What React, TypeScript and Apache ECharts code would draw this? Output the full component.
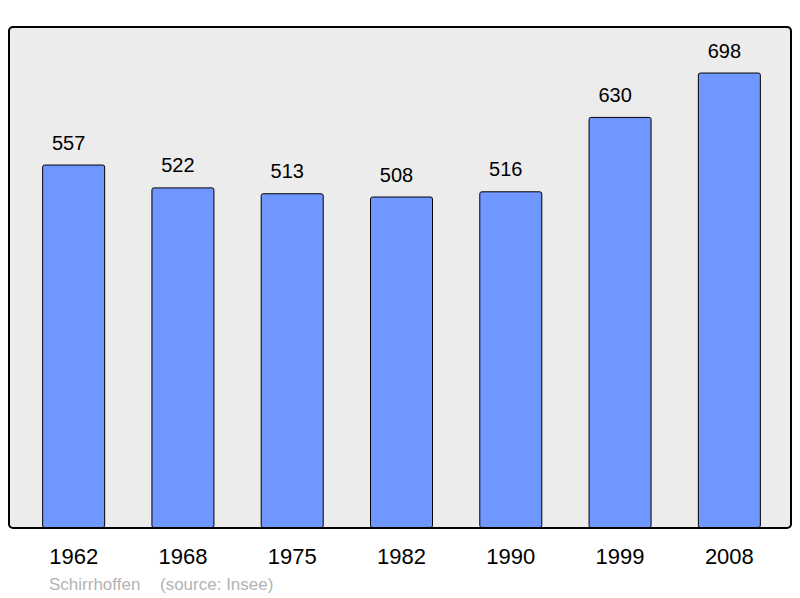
import React, { useEffect, useRef } from "react";
import * as echarts from "echarts";

const years = ["1962", "1968", "1975", "1982", "1990", "1999", "2008"];
const population = [557, 522, 513, 508, 516, 630, 698];
const footerName = "Schirrhoffen";
const footerSource = "(source: Insee)";

export default function App() {
  const ref = useRef<HTMLDivElement>(null);
  useEffect(() => {
    if (!ref.current) return;
    const chart = echarts.init(ref.current, null, { renderer: "svg" });
    const maxV = Math.max(...population) * 1.1;
    const font = "Liberation Sans, Arial, sans-serif";
    chart.setOption({
      animation: false,
      backgroundColor: "#ffffff",
      grid: { left: 19, right: 16, top: 27, bottom: 70 },
      xAxis: {
        type: "category",
        data: years,
        axisLine: { show: false },
        axisTick: { show: false },
        axisLabel: {
          color: "#000",
          fontSize: 22,
          fontFamily: font,
          margin: 17,
        },
      },
      yAxis: {
        type: "value",
        min: 0,
        max: maxV,
        show: false,
        splitLine: { show: false },
      },
      graphic: [
        {
          type: "rect",
          z: -10,
          shape: { x: 9, y: 27, width: 782, height: 501, r: 4 },
          style: { fill: "#ececec", stroke: "none" },
        },
        {
          type: "rect",
          z: 100,
          shape: { x: 9, y: 27, width: 782, height: 501, r: 4 },
          style: { fill: "none", stroke: "#000", lineWidth: 2 },
        },
        {
          type: "text",
          x: 49,
          y: 584,
          style: {
            text: footerName,
            fill: "#b3b3b3",
            fontSize: 17,
            fontFamily: font,
            verticalAlign: "middle",
          },
        },
        {
          type: "text",
          x: 160,
          y: 584,
          style: {
            text: footerSource,
            fill: "#b3b3b3",
            fontSize: 17,
            fontFamily: font,
            verticalAlign: "middle",
          },
        },
      ],
      series: [
        {
          type: "bar",
          data: population,
          barWidth: 63,
          itemStyle: {
            color: "#7096ff",
            borderColor: "#000",
            borderWidth: 1,
            borderRadius: 2,
          },
          label: {
            show: true,
            position: "top",
            distance: 12,
            offset: [-5, 0],
            color: "#000",
            fontSize: 20,
            fontFamily: font,
          },
        },
      ],
    });
    return () => chart.dispose();
  }, []);
  return (
    <div
      ref={ref}
      style={{ position: "fixed", left: 0, top: 0, width: 800, height: 598 }}
    />
  );
}
